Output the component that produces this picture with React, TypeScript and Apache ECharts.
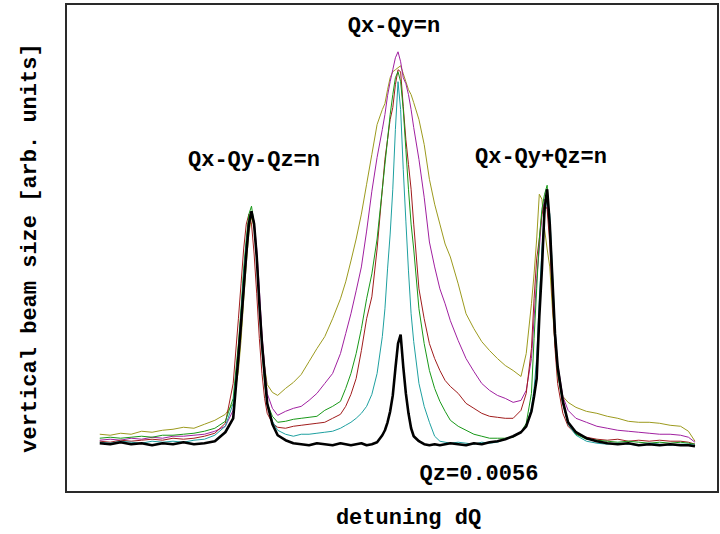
import React, { useEffect, useRef } from "react";
import * as echarts from "echarts";

// Detuning dQ (units of 1e-3), shared by all traces
const detuning = [
  -11.4, -11.0, -10.6, -10.2, -9.8, -9.4, -9.0, -8.6, -8.2, -7.8, -7.4, -7.0, -6.6,
  -6.3, -6.1, -6.0, -5.9, -5.8, -5.7, -5.6, -5.5, -5.4, -5.3, -5.2, -5.1, -5.0, -4.8,
  -4.6, -4.3, -4.0, -3.7, -3.4, -3.1, -2.8, -2.5, -2.2,
  -2.0, -1.8, -1.6, -1.4, -1.2, -1.0, -0.8, -0.6, -0.5, -0.4, -0.3, -0.2, -0.1, 0, 0.1, 0.2, 0.3, 0.4, 0.5, 0.6, 0.8, 1.0, 1.2, 1.4, 1.6, 1.8, 2.0,
  2.3, 2.6, 2.9, 3.2, 3.5, 3.8, 4.1, 4.4, 4.7,
  4.9, 5.1, 5.2, 5.3, 5.4, 5.5, 5.6, 5.7, 5.8, 5.9, 6.0, 6.1, 6.3, 6.5,
  6.8, 7.2, 7.6, 8.0, 8.4, 8.8, 9.2, 9.6, 10.0, 10.4, 10.8, 11.1, 11.35,
];

// Vertical beam size [arb. units] for each scan
const traceOlive = [
  58, 57, 59, 58, 61, 60, 62, 63, 65, 64, 68, 72, 78,
  89, 122, 152, 192, 228, 260, 276, 266, 236, 196, 156, 126, 108, 100,
  97, 104, 110, 118, 131, 144, 156, 174, 194,
  211, 232, 254, 279, 309, 339, 369, 384, 390, 404, 416, 422, 424, 426, 428, 420, 412, 404, 399, 391, 374, 349, 314, 289, 269, 249, 236,
  209, 179, 164, 151, 142, 134, 127, 122, 116,
  139, 189, 219, 254, 299, 294, 264, 244, 226, 184, 149, 122, 96, 90,
  85, 81, 79, 76, 74, 71, 70, 70, 69, 67, 66, 61, 51,
];

const traceMagenta = [
  52, 53, 52, 54, 53, 55, 54, 56, 56, 57, 58, 61, 66,
  82, 129, 164, 199, 236, 266, 280, 272, 244, 204, 159, 126, 99, 84,
  77, 81, 84, 86, 92, 99, 109, 119, 139,
  159, 179, 202, 226, 262, 302, 336, 364, 379, 398, 412, 424, 436, 442, 432, 416, 410, 399, 384, 366, 334, 296, 251, 226, 204, 189, 172,
  152, 134, 121, 109, 102, 97, 94, 90, 92,
  102, 134, 174, 214, 244, 279, 294, 289, 259, 214, 164, 129, 96, 82,
  74, 70, 66, 64, 62, 61, 60, 59, 58, 58, 57, 55, 50,
];

const traceRed = [
  51, 50, 52, 51, 52, 53, 52, 54, 53, 54, 56, 59, 69,
  109, 174, 209, 244, 269, 279, 269, 239, 199, 154, 119, 94, 79, 69,
  65, 64, 66, 67, 68, 69, 70, 74, 78,
  86, 98, 114, 142, 174, 196, 244, 304, 334, 354, 374, 386, 409, 424, 422, 387, 354, 329, 304, 269, 204, 174, 149, 134, 122, 112, 106,
  99, 89, 84, 79, 76, 75, 74, 74, 82,
  99, 144, 194, 234, 254, 279, 289, 284, 249, 194, 144, 109, 79, 66,
  58, 55, 53, 52, 53, 51, 52, 51, 52, 51, 51, 50, 48,
];

const traceGreen = [
  54, 55, 54, 55, 56, 55, 57, 57, 58, 59, 61, 64, 71,
  94, 149, 184, 224, 254, 279, 287, 269, 234, 189, 144, 109, 89, 76,
  70, 71, 73, 74, 75, 76, 82, 86, 91,
  104, 119, 139, 164, 194, 219, 254, 304, 329, 354, 379, 399, 416, 422, 412, 384, 344, 304, 269, 244, 184, 149, 122, 104, 91, 81, 72,
  66, 62, 58, 56, 54, 54, 54, 55, 60,
  69, 99, 154, 204, 254, 284, 299, 308, 264, 209, 154, 119, 89, 69,
  58, 53, 52, 51, 50, 51, 50, 49, 50, 49, 50, 49, 48,
];

const traceTeal = [
  50, 49, 51, 50, 49, 51, 50, 51, 50, 52, 53, 57, 66,
  89, 139, 179, 219, 249, 272, 281, 269, 236, 194, 149, 114, 89, 71,
  62, 58, 56, 58, 58, 59, 60, 61, 64,
  67, 70, 74, 79, 86, 98, 119, 156, 184, 224, 259, 304, 364, 412, 384, 324, 272, 222, 179, 151, 109, 86, 70, 56, 51, 50, 49,
  50, 49, 48, 50, 49, 50, 53, 56, 60,
  66, 84, 104, 134, 194, 244, 279, 294, 279, 224, 164, 124, 89, 68,
  57, 51, 49, 48, 49, 48, 47, 49, 48, 47, 48, 48, 47,
];

// Qz = 0.0056 scan
const traceBlack = [
  49, 48, 50, 48, 49, 47, 49, 48, 50, 48, 49, 51, 60,
  74, 136, 169, 204, 239, 269, 282, 269, 236, 189, 149, 119, 89, 68,
  57, 52, 49, 48, 47, 49, 48, 47, 49,
  48, 47, 48, 49, 47, 48, 50, 57, 62, 70, 81, 97, 124, 149, 158, 126, 99, 79, 64, 56, 51, 48, 47, 48, 47, 48, 49,
  48, 47, 49, 48, 50, 51, 53, 56, 60,
  66, 81, 96, 114, 176, 224, 284, 304, 269, 214, 159, 126, 91, 70,
  60, 54, 51, 49, 48, 49, 47, 48, 47, 48, 47, 47, 46,
];

const traces = [
  { name: "scan 1", values: traceOlive, color: "#9c9a1e", width: 1 },
  { name: "scan 2", values: traceMagenta, color: "#a020a0", width: 1 },
  { name: "scan 3", values: traceRed, color: "#a01c1c", width: 1 },
  { name: "scan 4", values: traceGreen, color: "#189818", width: 1 },
  { name: "scan 5", values: traceTeal, color: "#1ea0a0", width: 1 },
  { name: "Qz=0.0056", values: traceBlack, color: "#000000", width: 2.6 },
];

const resonanceLabels = [
  { text: "Qx-Qy=n", x: 394, y: 26 },
  { text: "Qx-Qy-Qz=n", x: 254, y: 160 },
  { text: "Qx-Qy+Qz=n", x: 541, y: 157 },
  { text: "Qz=0.0056", x: 479, y: 474 },
];

const FONT = '"Liberation Mono", "DejaVu Sans Mono", monospace';

export default function App() {
  const ref = useRef<HTMLDivElement>(null);

  useEffect(() => {
    if (!ref.current) return;
    const chart = echarts.init(ref.current, null, { renderer: "svg" });
    chart.setOption({
      animation: false,
      backgroundColor: "#ffffff",
      grid: {
        left: 66,
        right: 2,
        top: 4,
        bottom: 40,
        show: true,
        borderColor: "#2a2a2a",
        borderWidth: 2,
        backgroundColor: "transparent",
      },
      xAxis: {
        type: "value",
        min: -12.69,
        max: 12.23,
        axisLine: { show: false },
        axisTick: { show: false },
        axisLabel: { show: false },
        splitLine: { show: false },
        name: "detuning dQ",
        nameLocation: "middle",
        nameGap: 15,
        nameTextStyle: {
          fontFamily: FONT,
          fontWeight: "bold",
          fontSize: 22,
          color: "#000",
          padding: [0, 0, 0, 33],
        },
      },
      yAxis: {
        type: "value",
        min: 0,
        max: 490,
        axisLine: { show: false },
        axisTick: { show: false },
        axisLabel: { show: false },
        splitLine: { show: false },
        name: "vertical beam size [arb. units]",
        nameLocation: "middle",
        nameGap: 25,
        nameRotate: 90,
        nameTextStyle: { fontFamily: FONT, fontWeight: "bold", fontSize: 22, color: "#000" },
      },
      series: traces.map((t) => ({
        type: "line",
        name: t.name,
        data: detuning.map((x, i) => [x, t.values[i]]),
        showSymbol: false,
        symbol: "none",
        lineStyle: { color: t.color, width: t.width },
        itemStyle: { color: t.color },
        silent: true,
      })),
      graphic: resonanceLabels.map((l) => ({
        type: "text",
        x: l.x,
        y: l.y,
        style: {
          text: l.text,
          fontFamily: FONT,
          fontWeight: "bold",
          fontSize: 22,
          fill: "#000",
          align: "center",
          verticalAlign: "middle",
          textAlign: "center",
          textVerticalAlign: "middle",
        },
      })),
    });
    return () => chart.dispose();
  }, []);

  return (
    <div
      ref={ref}
      style={{ position: "fixed", left: 0, top: 0, width: 720, height: 534, background: "#fff" }}
    />
  );
}
